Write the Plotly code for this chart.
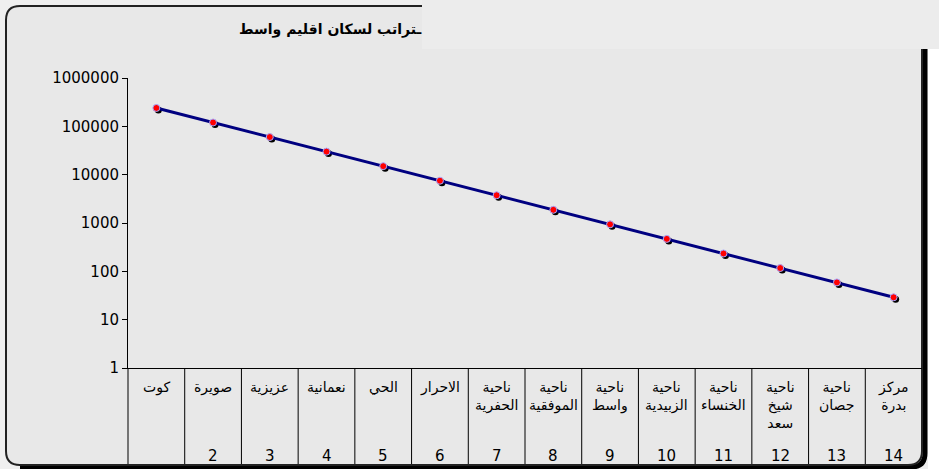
import plotly.graph_objects as go

# Rank order of settlements and their population
ranks = list(range(1, 15))
places = [
    "كوت", "صويرة", "عزيزية", "نعمانية", "الحي", "الاحرار",
    "ناحية<br>الحفرية", "ناحية<br>الموفقية", "ناحية<br>واسط", "ناحية<br>الزبيدية",
    "ناحية<br>الخنساء", "ناحية<br>شيخ<br>سعد", "ناحية<br>جصان", "مركز<br>بدرة",
]
rank_labels = ["", "2", "3", "4", "5", "6", "7", "8", "9", "10", "11", "12", "13", "14"]
population = [240000, 120000, 60000, 30000, 15000, 7500, 3750, 1875,
              937, 469, 234, 117, 59, 29]

y_tickvals = [1, 10, 100, 1000, 10000, 100000, 1000000]
y_ticktext = ["1", "10", "100", "1000", "10000", "100000", "1000000"]

title_text = "ـتراتب لسكان اقليم واسط"

# Canvas geometry (pixels)
FIG_W, FIG_H = 939, 469
L, R, T, B = 128, 922, 78, 368
W, H = R - L, B - T


def px(x):
    return (x - L) / W


def py(y):
    return (B - y) / H


BG = "#e8e8e8"
AR_FONT = "DejaVu Sans"

fig = go.Figure()

# marker shadows, drawn on a hidden axis pair nudged 2px right/down
dx = 2 * 14 / W
dy = 2 * 6 / H
fig.add_trace(go.Scatter(
    x=ranks, y=population, mode="markers", xaxis="x", yaxis="y",
    marker=dict(color="black", size=7), hoverinfo="skip", showlegend=False,
))

# main series
fig.add_trace(go.Scatter(
    x=ranks, y=population, mode="lines+markers", xaxis="x2", yaxis="y2",
    line=dict(color="#000080", width=3),
    marker=dict(color="#ff0000", size=7, line=dict(color="#a8a8ff", width=1)),
    showlegend=False,
))

shapes = []

# frame shadow (right / bottom)
rr = 14
shadow_path = (
    f"M {px(925)},{py(22)} L {px(925)},{py(467 - rr)} "
    f"Q {px(925)},{py(467)} {px(925 - rr)},{py(467)} L {px(20)},{py(467)}"
)
shapes.append(dict(type="path", xref="paper", yref="paper", path=shadow_path,
                   line=dict(color="black", width=5), layer="below"))

# rounded frame
x0, y0, x1, y1 = 6, 6, 922, 465
frame = (
    f"M {px(x0)},{py(y1 - rr)} L {px(x0)},{py(y0 + rr)} "
    f"Q {px(x0)},{py(y0)} {px(x0 + rr)},{py(y0)} "
    f"L {px(x1 - rr)},{py(y0)} Q {px(x1)},{py(y0)} {px(x1)},{py(y0 + rr)} "
    f"L {px(x1)},{py(y1 - rr)} Q {px(x1)},{py(y1)} {px(x1 - rr)},{py(y1)} "
    f"L {px(x0 + rr)},{py(y1)} Q {px(x0)},{py(y1)} {px(x0)},{py(y1 - rr)} Z"
)
shapes.append(dict(type="path", xref="paper", yref="paper", path=frame,
                   fillcolor=BG, line=dict(color="#222222", width=2), layer="below"))

# category table below the axis
shapes.append(dict(type="line", xref="paper", yref="paper",
                   x0=px(L), x1=px(L), y0=py(B), y1=py(464),
                   line=dict(color="black", width=1), layer="above"))
for k in range(1, 14):
    xb = L + k * W / 14
    shapes.append(dict(type="line", xref="paper", yref="paper",
                       x0=px(xb), x1=px(xb), y0=py(B), y1=py(464),
                       line=dict(color="black", width=1), layer="above"))

# light panel over the top-right corner and the white strip beside the frame
shapes.append(dict(type="rect", xref="paper", yref="paper",
                   x0=px(422), x1=px(FIG_W), y0=py(0), y1=py(49),
                   fillcolor="#ececec", line=dict(width=0), layer="above"))
shapes.append(dict(type="rect", xref="paper", yref="paper",
                   x0=px(928), x1=px(FIG_W), y0=py(49), y1=py(FIG_H),
                   fillcolor="white", line=dict(width=0), layer="above"))

annotations = []
annotations.append(dict(
    text=f"<b>{title_text}</b>", xref="paper", yref="paper",
    x=px(423), y=py(30), xanchor="right", yanchor="middle", showarrow=False,
    font=dict(family=AR_FONT, size=14, color="black"),
))

for i, (name, num) in enumerate(zip(places, rank_labels)):
    cx = L + (i + 0.5) * W / 14
    annotations.append(dict(
        text=name, xref="paper", yref="paper", x=px(cx), y=py(377),
        xanchor="center", yanchor="top", showarrow=False, align="center",
        font=dict(family=AR_FONT, size=14, color="black"),
    ))
    if num:
        annotations.append(dict(
            text=num, xref="paper", yref="paper", x=px(cx), y=py(456),
            xanchor="center", yanchor="middle", showarrow=False,
            font=dict(family="DejaVu Sans", size=15, color="black"),
        ))

fig.update_layout(
    width=FIG_W, height=FIG_H,
    margin=dict(l=L, r=FIG_W - R, t=T, b=FIG_H - B, pad=0),
    paper_bgcolor="#efefef",
    plot_bgcolor="rgba(0,0,0,0)",
    xaxis=dict(domain=[0, 1], range=[0.5 - dx, 14.5 - dx], visible=False),
    yaxis=dict(domain=[0, 1], type="log", range=[0 + dy, 6 + dy], visible=False),
    xaxis2=dict(overlaying="x", range=[0.5, 14.5], showgrid=False, zeroline=False,
                showticklabels=False, ticks="", showline=True,
                linecolor="black", linewidth=1, side="bottom"),
    yaxis2=dict(overlaying="y", type="log", range=[0, 6], side="left",
                tickvals=y_tickvals, ticktext=y_ticktext,
                ticks="outside", ticklen=5, tickcolor="black", tickwidth=1,
                showline=True, linecolor="black", linewidth=1,
                showgrid=False, zeroline=False,
                tickfont=dict(family="DejaVu Sans", size=15, color="black")),
    shapes=shapes,
    annotations=annotations,
)

fig.write_html("out.html")
